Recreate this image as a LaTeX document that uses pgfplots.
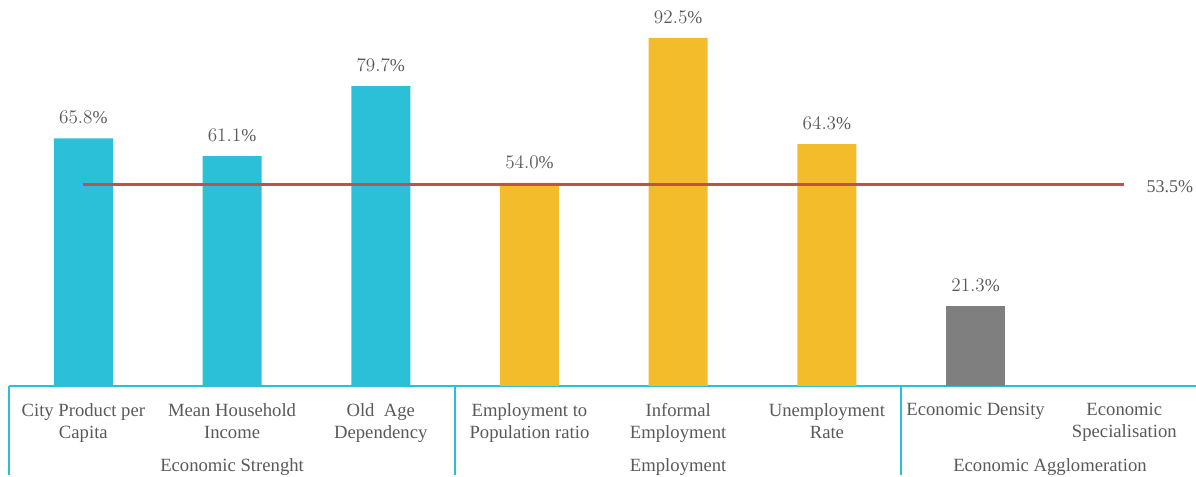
\documentclass[border=0pt]{standalone}
\usepackage{pgfplots}
\pgfplotsset{compat=1.18}
\usepackage{fontspec}
\setmainfont{Liberation Serif}

\definecolor{barcyan}{RGB}{44,192,216}
\definecolor{baryellow}{RGB}{243,188,42}
\definecolor{bargray}{RGB}{127,127,127}
\definecolor{avgred}{RGB}{192,80,77}
\definecolor{txtgray}{RGB}{89,89,89}

\pgfplotsset{
  valbar/.style={ybar, bar width=44.25pt, bar shift=0pt, draw=none,
    point meta=y,
    nodes near coords={\pgfmathprintnumber[fixed,fixed zerofill,precision=1]{\pgfplotspointmeta}\%},
    nodes near coords style={anchor=base, inner sep=0pt, yshift=10.9pt,
      font=\fontsize{13.5}{16}\selectfont, text=txtgray}},
}

\begin{document}
\begin{tikzpicture}
% 1 px of the reference = 0.75pt
\useasboundingbox (-6.75pt,-68.25pt) rectangle (890.25pt,289.5pt);
\begin{axis}[
  at={(0,0)}, anchor=south west,
  scale only axis, width=890.25pt, height=289.5pt,
  xmin=-0.5, xmax=7.482, ymin=0, ymax=102.6,
  clip=false,
  axis x line*=bottom, axis y line=none,
  x axis line style={barcyan, line width=1.5pt, -},
  xtick={0,...,7},
  major tick length=0pt,
  xtick style={draw=none},
  xticklabels={{City Product per\\Capita},{Mean Household\\Income},{Old~~Age\\Dependency},
    {Employment to\\Population ratio},{Informal\\Employment},{Unemployment\\Rate},
    {Economic Density\\\strut},{Economic\\Specialisation}},
  xticklabel style={anchor=north, inner sep=0pt, yshift=-13pt, align=center,
    execute at begin node=\strut,
    font=\fontsize{14}{16.5}\selectfont, text=txtgray},
]
\addplot[valbar, fill=barcyan] coordinates {(0,65.8)(1,61.1)(2,79.7)};
\addplot[valbar, fill=baryellow] coordinates {(3,54.0)(4,92.5)(5,64.3)};
\addplot[valbar, fill=bargray] coordinates {(6,21.3)};
\addplot[sharp plot, avgred, line width=2.25pt, no marks]
  coordinates {(0,53.5)(7,53.5)};
\node[anchor=base west, inner sep=0pt, xshift=16.5pt, yshift=-6pt, text=txtgray,
  font=\fontsize{13.5}{16}\selectfont] at (axis cs:7,53.5) {53.5\%};

% group separators and group names
\pgfplotsinvokeforeach{-0.5,2.5,5.5}{
  \draw[barcyan, line width=1.5pt] (axis cs:#1,0) -- ++(0pt,-67pt);
}
\begin{scope}[every node/.style={anchor=base, inner sep=0pt, text=txtgray,
    font=\fontsize{14}{16.5}\selectfont}]
\node at ([yshift=-64.5pt]axis cs:1,0) {Economic Strenght};
\node at ([yshift=-64.5pt]axis cs:4,0) {Employment};
\node at ([yshift=-64.5pt]axis cs:6.5,0) {Economic Agglomeration};
\end{scope}
\end{axis}
\end{tikzpicture}
\end{document}
